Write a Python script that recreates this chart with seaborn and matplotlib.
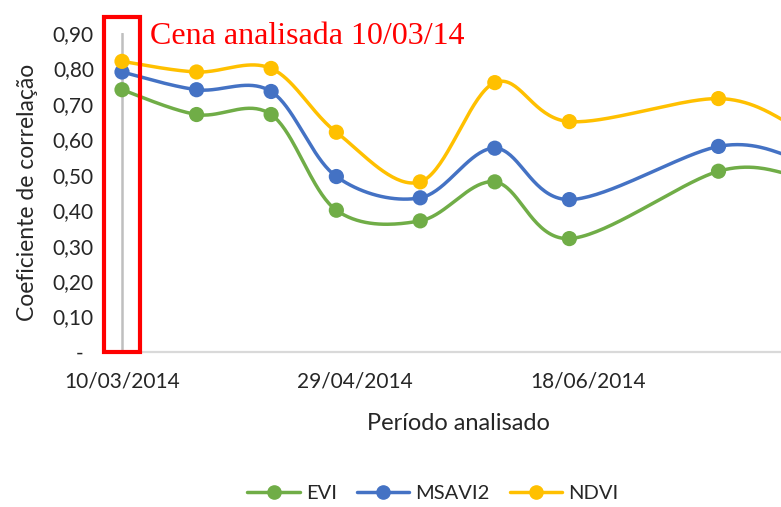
import numpy as np
import pandas as pd
import seaborn as sns
import matplotlib.pyplot as plt
from matplotlib.lines import Line2D
from matplotlib.patches import Rectangle

# dados
datas = ['10/03/2014', '26/03/2014', '11/04/2014', '25/04/2014', '13/05/2014',
         '29/05/2014', '14/06/2014', '16/07/2014', '01/08/2014']
evi = [0.74, 0.67, 0.67, 0.40, 0.37, 0.48, 0.32, 0.51, 0.50]
msavi2 = [0.79, 0.74, 0.735, 0.495, 0.435, 0.575, 0.43, 0.58, 0.55]
ndvi = [0.82, 0.79, 0.80, 0.62, 0.48, 0.76, 0.65, 0.715, 0.64]
indices = ['EVI', 'MSAVI2', 'NDVI']
cores = ['#70AD47', '#4472C4', '#FFC000']
ticks_x = ['10/03/2014', '29/04/2014', '18/06/2014']
ticks_y = [0.0, 0.1, 0.2, 0.3, 0.4, 0.5, 0.6, 0.7, 0.8, 0.9]
cena = '10/03/2014'

dt = pd.to_datetime(datas, format='%d/%m/%Y')
t0 = dt[0]
dias = (dt - t0).days.values.astype(float)

df = pd.DataFrame({'dia': dias, 'EVI': evi, 'MSAVI2': msavi2, 'NDVI': ndvi})


def suaviza(x, y, n=40):
    # linha suavizada tipo Excel (bezier / catmull-rom)
    p = np.column_stack([x, y]).astype(float)
    p = np.vstack([p[0], p, p[-1]])
    t = np.linspace(0, 1, n)[:, None]
    segs = []
    for i in range(1, len(p) - 2):
        p0, p1, p2, p3 = p[i - 1], p[i], p[i + 1], p[i + 2]
        c1 = p1 + (p2 - p0) / 6
        c2 = p2 - (p3 - p1) / 6
        segs.append((1 - t) ** 3 * p1 + 3 * (1 - t) ** 2 * t * c1
                    + 3 * (1 - t) * t ** 2 * c2 + t ** 3 * p2)
    s = np.vstack(segs)
    return s[:, 0], s[:, 1]


sns.set_style('white')
plt.rcParams['font.family'] = ['Lato', 'DejaVu Sans']

fig = plt.figure(figsize=(7.81, 5.07), dpi=100)
ax = fig.add_axes([105 / 781, 155 / 507, 676 / 781, 319 / 507])

px_dia = 4.66
x_esq = -(122 - 105) / px_dia
x_dir = (781 - 122) / px_dia

# linha da cena analisada
xc = (pd.to_datetime(cena, format='%d/%m/%Y') - t0).days
ax.plot([xc, xc], [0, 0.9], color='#BFBFBF', lw=1.8, zorder=1)

for nome, cor in zip(indices, cores):
    xs, ys = suaviza(df['dia'], df[nome])
    sns.lineplot(x=xs, y=ys, sort=False, estimator=None, color=cor, lw=2.5, ax=ax, zorder=3)
    sns.scatterplot(x=df['dia'], y=df[nome], color=cor, s=120, edgecolor='none', ax=ax, zorder=4)

ax.set_xlim(x_esq, x_dir)
ax.set_ylim(0, 0.9)

tx = (pd.to_datetime(ticks_x, format='%d/%m/%Y') - t0).days.values
ax.set_xticks(tx)
ax.set_xticklabels(ticks_x)
ax.set_yticks(ticks_y)
ax.set_yticklabels(['-  '] + [('%.2f' % v).replace('.', ',') for v in ticks_y[1:]])
ax.tick_params(axis='x', length=0, pad=14, labelsize=15, labelcolor='#262626')
ax.tick_params(axis='y', length=0, pad=8, labelsize=15, labelcolor='#262626')

for s in ['top', 'right', 'left']:
    ax.spines[s].set_visible(False)
ax.spines['bottom'].set_color('#D9D9D9')
ax.spines['bottom'].set_linewidth(1.6)

ax.set_xlabel('Período analisado', fontsize=17, color='#262626')
ax.xaxis.set_label_coords((458 - 105) / 676, -0.19)
ax.set_ylabel('Coeficiente de correlação', fontsize=16.5, color='#262626')
ax.yaxis.set_label_coords(-(105 - 38) / 676, 0.5)

# destaque em vermelho
fig.patches.append(Rectangle((104 / 781, 155 / 507), 36 / 781, 335 / 507,
                             transform=fig.transFigure, fill=False,
                             edgecolor='#FF0000', lw=3, zorder=10))
fig.text(150 / 781, 1 - 37 / 507, 'Cena analisada 10/03/14', color='#FF0000',
         fontsize=23, family='Liberation Serif', va='center', ha='left')

handles = [Line2D([], [], color=c, lw=2.5, marker='o', markersize=9.5) for c in cores]
fig.legend(handles, indices, loc='center', bbox_to_anchor=(433 / 781, 1 - 493 / 507),
           ncol=3, frameon=False, fontsize=14.5, handlelength=2.6, columnspacing=1.0,
           handletextpad=0.3)

fig.savefig('out.png', dpi=100)
